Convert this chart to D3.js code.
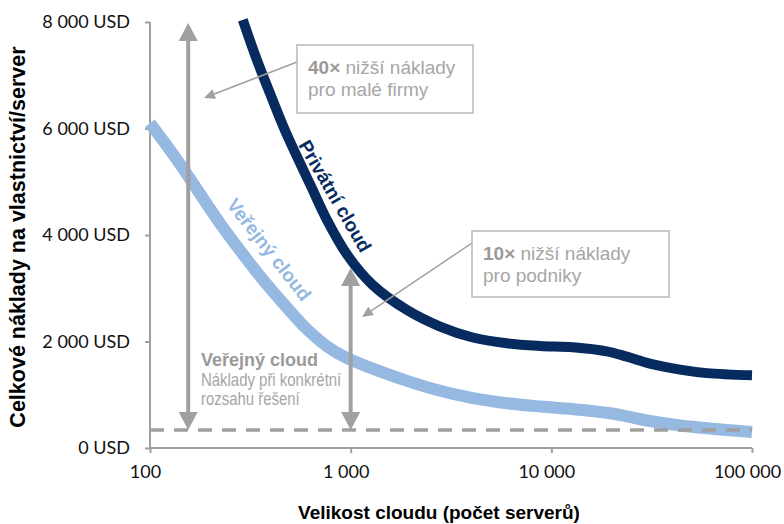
<!DOCTYPE html>
<html>
<head>
<meta charset="utf-8">
<script src="https://cdn.jsdelivr.net/npm/d3@7"></script>
<style>
  html, body { margin: 0; padding: 0; background: #fff; }
  svg { display: block; }
</style>
</head>
<body>
<svg id="chart" width="784" height="524"></svg>
<script>
// Axis ticks and labels
const xTicks = [100, 1000, 10000, 100000];
const xTickLabels = ["100", "1\u00a0000", "10\u00a0000", "100\u00a0000"];
const yTicks = [0, 2000, 4000, 6000, 8000];
const yTickLabels = ["0\u00a0USD", "2\u00a0000\u00a0USD", "4\u00a0000\u00a0USD", "6\u00a0000\u00a0USD", "8\u00a0000\u00a0USD"];

// Cost per server (USD) by cloud size (servers)
const privateServers = [290, 340, 405, 480, 630, 760, 960, 1280, 1910, 2790, 4060, 6000, 8800, 12800, 18900, 23800, 31000, 43800, 59600, 100000];
const privateCost    = [8040, 7300, 6570, 5890, 4940, 4290, 3630, 3070, 2590, 2280, 2075, 1966, 1917, 1893, 1816, 1715, 1585, 1472, 1406, 1365];

const publicServers = [100, 130, 158, 192, 231, 281, 341, 410, 499, 606, 762, 960, 1260, 1910, 2790, 4060, 6000, 8800, 12800, 18900, 23800, 31000, 43800, 59600, 100000];
const publicCost    = [6100, 5520, 5060, 4580, 4140, 3710, 3300, 2935, 2570, 2230, 1910, 1686, 1504, 1260, 1074, 937, 841, 779, 730, 661, 593, 507, 423, 372, 300];

// Public cloud cost at a given solution scale
const publicScaleCost = 340;

// Gap arrows: [servers, from cost, to cost]
const gapArrows = [[155, 340, 7980], [1000, 340, 3380]];

const svg = d3.select("#chart");
const x = d3.scaleLog().domain([100, 100000]).range([150, 752]);
const y = d3.scaleLinear().domain([0, 8000]).range([448, 22]);

const grey = "#a0a0a0";
const textGrey = "#a6a6a6";
const sans = "'Liberation Sans', Arial, sans-serif";

// Axes
const xAxis = svg.append("g").attr("transform", `translate(0,${y(0)})`)
  .call(d3.axisBottom(x).tickValues(xTicks).tickSize(5).tickPadding(12)
    .tickFormat((d, i) => xTickLabels[i]));
const yAxis = svg.append("g").attr("transform", `translate(${x(100)},0)`)
  .call(d3.axisLeft(y).tickValues(yTicks).tickSize(5).tickPadding(15)
    .tickFormat((d, i) => yTickLabels[i]));
[xAxis, yAxis].forEach(g => {
  g.select(".domain").attr("stroke", grey).attr("stroke-width", 2);
  g.selectAll(".tick line").attr("stroke", grey).attr("stroke-width", 2);
  g.selectAll(".tick text").attr("fill", "#111")
    .style("font-family", "Lato, 'Liberation Sans', sans-serif").style("font-size", "18px");
});
xAxis.selectAll(".tick text").attr("dx", -5);
xAxis.select(".domain").attr("d", `M${x(100)},0H${x(100000)}`);
yAxis.select(".domain").attr("d", `M0,${y(8000)}V${y(0)}`);

// Axis titles
svg.append("text")
  .attr("x", (x(100) + x(100000)) / 2 - 12).attr("y", 519)
  .attr("text-anchor", "middle")
  .style("font-family", sans)
  .style("font-weight", "bold").style("font-size", "19px").attr("fill", "#000")
  .text("Velikost cloudu (počet serverů)");
svg.append("text")
  .attr("transform", `translate(25,${(y(0) + y(8000)) / 2 + 2}) rotate(-90)`)
  .attr("text-anchor", "middle")
  .style("font-family", sans)
  .style("font-weight", "bold").style("font-size", "21.5px").attr("fill", "#000")
  .text("Celkové náklady na vlastnictví/server");

// Cost curves
const line = d3.line().x(d => x(d[0])).y(d => y(d[1])).curve(d3.curveCatmullRom.alpha(0.5));
svg.append("path")
  .datum(publicServers.map((s, i) => [s, publicCost[i]]))
  .attr("d", line).attr("fill", "none")
  .attr("stroke", "#95b9e1").attr("stroke-width", 12);
svg.append("path")
  .datum(privateServers.map((s, i) => [s, privateCost[i]]))
  .attr("d", line).attr("fill", "none")
  .attr("stroke", "#072b5f").attr("stroke-width", 10);

// Public cloud scale cost (dashed)
svg.append("line")
  .attr("x1", x(100)).attr("x2", x(100000))
  .attr("y1", y(publicScaleCost)).attr("y2", y(publicScaleCost))
  .attr("stroke", grey).attr("stroke-width", 3.5).attr("stroke-dasharray", "14,10");

// Curve labels
function curveLabel(text, at, angle, color) {
  svg.append("text")
    .attr("transform", `translate(${x(at[0])},${y(at[1])}) rotate(${angle})`)
    .style("font-family", sans)
    .style("font-weight", "bold").style("font-size", "19px")
    .attr("fill", color).text(text);
}
curveLabel("Privátní cloud", [546, 5690], 60, "#072b5f");
curveLabel("Veřejný cloud", [239, 4563], 52, "#95b9e1");

// Double-headed gap arrows
const head = 18, headW = 9.5;
gapArrows.forEach(([s, lo, hi]) => {
  const ax = x(s), yTop = y(hi), yBot = y(lo);
  svg.append("line").attr("x1", ax).attr("x2", ax)
    .attr("y1", yTop + head - 1).attr("y2", yBot - head + 1)
    .attr("stroke", grey).attr("stroke-width", 4);
  svg.append("path")
    .attr("d", `M${ax},${yTop}L${ax - headW},${yTop + head}L${ax + headW},${yTop + head}Z`)
    .attr("fill", grey);
  svg.append("path")
    .attr("d", `M${ax},${yBot}L${ax - headW},${yBot - head}L${ax + headW},${yBot - head}Z`)
    .attr("fill", grey);
});

// Callout boxes with pointers
const callouts = [
  { box: [297, 45, 176, 68], bold: "40×", rest: " nižší náklady", line2: "pro malé firmy", from: [297, 62], to: [204, 98] },
  { box: [472, 231, 197, 66], bold: "10×", rest: " nižší náklady", line2: "pro podniky", from: [472, 243], to: [362, 317] }
];
callouts.forEach(c => {
  const [bx, by, bw, bh] = c.box;
  const [x1, y1] = c.from, [x2, y2] = c.to;
  const ang = Math.atan2(y2 - y1, x2 - x1);
  const hl = 11, hw = 5;
  const baseX = x2 - hl * Math.cos(ang), baseY = y2 - hl * Math.sin(ang);
  svg.append("line").attr("x1", x1).attr("y1", y1).attr("x2", baseX).attr("y2", baseY)
    .attr("stroke", grey).attr("stroke-width", 1.5);
  svg.append("path")
    .attr("d", `M${x2},${y2}L${baseX + hw * Math.sin(ang)},${baseY - hw * Math.cos(ang)}L${baseX - hw * Math.sin(ang)},${baseY + hw * Math.cos(ang)}Z`)
    .attr("fill", grey);
  svg.append("rect").attr("x", bx).attr("y", by).attr("width", bw).attr("height", bh)
    .attr("fill", "#fff").attr("stroke", "#b8b8b8").attr("stroke-width", 1.5);
  const t = svg.append("text").attr("x", bx + 11).attr("y", by + 29)
    .style("font-family", sans).style("font-size", "19px")
    .attr("fill", textGrey);
  t.append("tspan").style("font-weight", "bold").attr("fill", "#9a9a9a").text(c.bold);
  t.append("tspan").text(c.rest);
  svg.append("text").attr("x", bx + 11).attr("y", by + 51)
    .style("font-family", sans).style("font-size", "19px")
    .attr("fill", textGrey).text(c.line2);
});

// Public cloud scale note (condensed body lines)
const note = svg.append("g").attr("transform", "translate(201,366)");
note.append("text")
  .style("font-family", sans)
  .style("font-weight", "bold").style("font-size", "18px")
  .attr("fill", "#9a9a9a").text("Veřejný cloud");
["Náklady při konkrétní", "rozsahu řešení"].forEach((s, i) => {
  note.append("text")
    .attr("transform", `translate(0,${20 + i * 19}) scale(0.83,1)`)
    .style("font-family", sans)
    .style("font-size", "18px").attr("fill", textGrey).text(s);
});
</script>
</body>
</html>
